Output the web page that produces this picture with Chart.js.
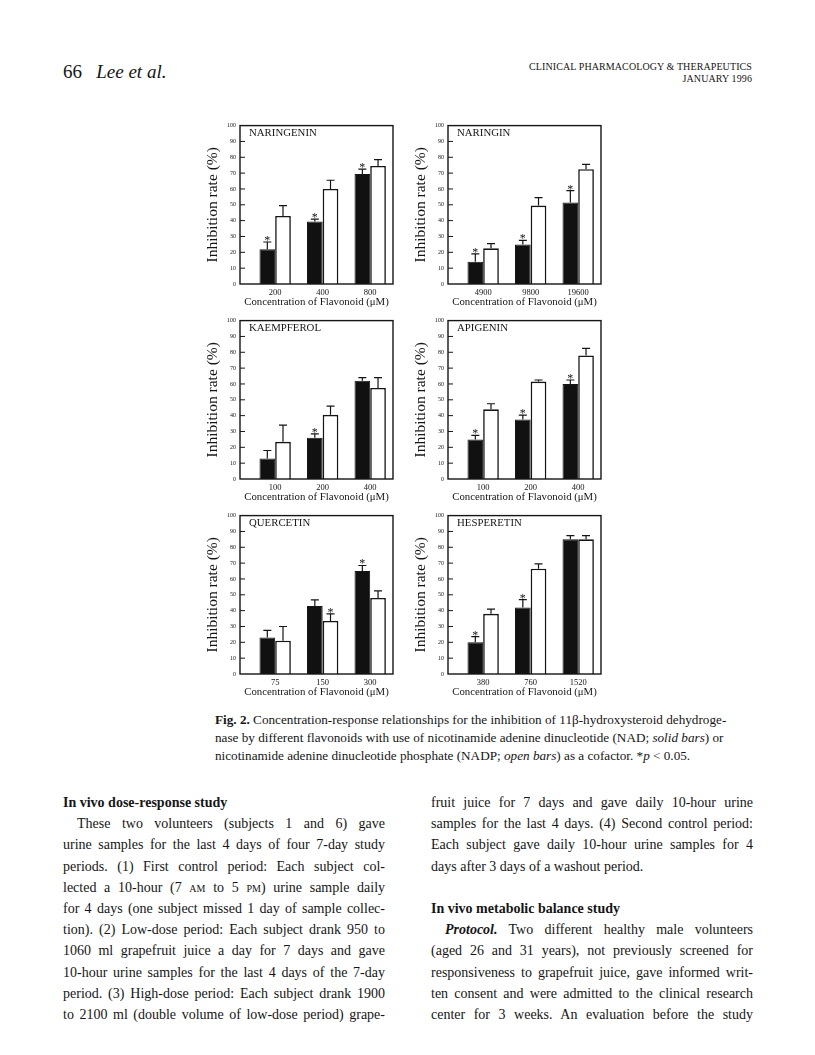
<!DOCTYPE html>
<html>
<head>
<meta charset="utf-8">
<script src="https://cdn.jsdelivr.net/npm/chart.js@4.4.0/dist/chart.umd.min.js"></script>
<style>
  body { margin: 0; background: #fff; width: 815px; height: 1055px; position: relative; overflow: hidden;
         font-family: "Liberation Serif", "DejaVu Serif", serif; color: #151515; }
  .abs { position: absolute; white-space: nowrap; }
  canvas { position: absolute; }
  .col { position: absolute; width: 322px; font-size: 14px; line-height: 21.2px; white-space: nowrap; }
  .j { text-align: justify; text-align-last: justify; }
  .sc { font-variant: small-caps; }
</style>
</head>
<body>

<div class="abs" style="left:63px;top:60px;font-size:19px;line-height:24px">66&nbsp;&nbsp;&nbsp;<i>Lee et al.</i></div>
<div class="abs" style="right:63px;top:61px;font-size:10px;line-height:12px;text-align:right;letter-spacing:0.1px">CLINICAL PHARMACOLOGY &amp; THERAPEUTICS<br>JANUARY 1996</div>

<div class="abs" style="left:215px;top:711px;font-size:13.2px;line-height:17.8px">
  <div><b>Fig. 2.</b> Concentration-response relationships for the inhibition of 11β-hydroxysteroid dehydroge-</div>
  <div>nase by different flavonoids with use of nicotinamide adenine dinucleotide (NAD; <i>solid bars</i>) or</div>
  <div>nicotinamide adenine dinucleotide phosphate (NADP; <i>open bars</i>) as a cofactor. *<i>p</i> &lt; 0.05.</div>
</div>

<div class="col" style="left:63px;top:792px">
  <div><b>In vivo dose-response study</b></div>
  <div class="j" style="padding-left:14px">These two volunteers (subjects 1 and 6) gave</div>
  <div class="j">urine samples for the last 4 days of four 7-day study</div>
  <div class="j">periods. (1) First control period: Each subject col-</div>
  <div class="j">lected a 10-hour (7 <span class="sc">am</span> to 5 <span class="sc">pm</span>) urine sample daily</div>
  <div class="j">for 4 days (one subject missed 1 day of sample collec-</div>
  <div class="j">tion). (2) Low-dose period: Each subject drank 950 to</div>
  <div class="j">1060 ml grapefruit juice a day for 7 days and gave</div>
  <div class="j">10-hour urine samples for the last 4 days of the 7-day</div>
  <div class="j">period. (3) High-dose period: Each subject drank 1900</div>
  <div class="j">to 2100 ml (double volume of low-dose period) grape-</div>
</div>

<div class="col" style="left:431px;top:792px">
  <div class="j">fruit juice for 7 days and gave daily 10-hour urine</div>
  <div class="j">samples for the last 4 days. (4) Second control period:</div>
  <div class="j">Each subject gave daily 10-hour urine samples for 4</div>
  <div>days after 3 days of a washout period.</div>
  <div>&nbsp;</div>
  <div><b>In vivo metabolic balance study</b></div>
  <div class="j" style="padding-left:14px"><b><i>Protocol.</i></b> Two different healthy male volunteers</div>
  <div class="j">(aged 26 and 31 years), not previously screened for</div>
  <div class="j">responsiveness to grapefruit juice, gave informed writ-</div>
  <div class="j">ten consent and were admitted to the clinical research</div>
  <div class="j">center for 3 weeks. An evaluation before the study</div>
</div>

<script>
// panels, read left to right, top to bottom
const panelNames = ['NARINGENIN', 'NARINGIN', 'KAEMPFEROL', 'APIGENIN', 'QUERCETIN', 'HESPERETIN'];
const concLabels = [
  ['200', '400', '800'],
  ['4900', '9800', '19600'],
  ['100', '200', '400'],
  ['100', '200', '400'],
  ['75', '150', '300'],
  ['380', '760', '1520']
];
// NAD = solid bars, NADP = open bars (inhibition rate %, mean and upper error)
const nadMean  = [[22, 39.5, 69.5], [14, 25, 51.5], [13, 26, 62], [25, 37.5, 60], [23, 43, 65], [20, 42, 85]];
const nadErr   = [[4.5, 1.5, 3], [5, 2.5, 7.5], [5, 2.5, 2], [2.5, 2.8, 2.5], [4.5, 3.8, 3.5], [3.6, 5, 2.4]];
const nadpMean = [[43, 60, 74.5], [22.5, 49.5, 72.5], [23.5, 40.5, 57.5], [44, 61.5, 78], [21, 33.5, 48], [38, 66.5, 85]];
const nadpErr  = [[6.5, 5.5, 4], [3, 5, 3], [10.5, 5.5, 6.5], [3.5, 1, 4.5], [9, 4.5, 4.5], [3, 3, 2.4]];
const nadStar  = [[1, 1, 1], [1, 1, 1], [0, 1, 0], [1, 1, 1], [0, 0, 1], [1, 1, 0]];
const nadpStar = [[0, 0, 0], [0, 0, 0], [0, 0, 0], [0, 0, 0], [0, 1, 0], [0, 0, 0]];
const xTickValues = [0, 1, 2];
const yTickValues = [0, 10, 20, 30, 40, 50, 60, 70, 80, 90, 100];

const serif = "'Liberation Serif', 'DejaVu Serif', serif";
const ink = '#151515';

// frame, inward ticks, error bars, stars and panel name
const panelDecor = {
  id: 'panelDecor',
  afterDatasetsDraw(chart, args, opts) {
    const ctx = chart.ctx;
    const a = chart.chartArea;
    const y = chart.scales.y;
    ctx.save();
    ctx.strokeStyle = ink;
    ctx.fillStyle = ink;
    ctx.lineWidth = 1.4;
    ctx.strokeRect(a.left, a.top, a.width, a.height);

    ctx.lineWidth = 1;
    yTickValues.slice(1, -1).forEach(v => {
      const py = y.getPixelForValue(v);
      ctx.beginPath();
      ctx.moveTo(a.left, py);
      ctx.lineTo(a.left + 5, py);
      ctx.stroke();
    });

    chart.data.datasets.forEach((ds, i) => {
      chart.getDatasetMeta(i).data.forEach((bar, j) => {
        const yTop = y.getPixelForValue(ds.data[j].y + ds.errs[j]);
        ctx.lineWidth = 1.2;
        ctx.beginPath();
        ctx.moveTo(bar.x, bar.y);
        ctx.lineTo(bar.x, yTop);
        ctx.moveTo(bar.x - 4, yTop);
        ctx.lineTo(bar.x + 4, yTop);
        ctx.stroke();
        if (ds.stars[j]) {
          ctx.font = "12px " + serif;
          ctx.textAlign = 'center';
          ctx.textBaseline = 'alphabetic';
          ctx.fillText('*', bar.x, yTop + 2);
        }
      });
    });

    ctx.font = "10.8px " + serif;
    ctx.textAlign = 'left';
    ctx.textBaseline = 'middle';
    ctx.fillText(opts.name, a.left + 9, a.top + 8);
    ctx.restore();
  }
};

function makePanel(k, left, top) {
  const canvas = document.createElement('canvas');
  canvas.width = 200;
  canvas.height = 200;
  canvas.style.left = left + 'px';
  canvas.style.top = top + 'px';
  document.body.appendChild(canvas);

  const pts = arr => arr.map((v, i) => ({ x: xTickValues[i], y: v }));

  new Chart(canvas, {
    type: 'bar',
    data: {
      datasets: [
        { label: 'NAD', data: pts(nadMean[k]), errs: nadErr[k], stars: nadStar[k],
          backgroundColor: '#111', borderColor: ink, borderWidth: 1 },
        { label: 'NADP', data: pts(nadpMean[k]), errs: nadpErr[k], stars: nadpStar[k],
          backgroundColor: '#fff', borderColor: ink, borderWidth: 1.6 }
      ]
    },
    options: {
      responsive: false,
      animation: false,
      layout: { padding: { top: 7, right: 7, left: 0, bottom: 0 } },
      datasets: { bar: { categoryPercentage: 0.66, barPercentage: 1 } },
      plugins: {
        legend: { display: false },
        tooltip: { enabled: false },
        panelDecor: { name: panelNames[k] }
      },
      scales: {
        x: {
          type: 'linear', min: -0.74, max: 2.48, offset: false,
          grid: { display: false, drawTicks: false, offset: false },
          border: { display: false },
          afterBuildTicks: s => { s.ticks = xTickValues.map(v => ({ value: v })); },
          afterFit: s => { s.height = 34; },
          ticks: { padding: 4, color: ink, font: { family: serif, size: 8.5 },
                   callback: v => concLabels[k][v] },
          title: { display: true, text: 'Concentration of Flavonoid (μM)', color: ink,
                   font: { family: serif, size: 10.8 }, padding: { top: 0, bottom: 9 } }
        },
        y: {
          min: 0, max: 100,
          grid: { display: false, drawTicks: false },
          border: { display: false },
          afterBuildTicks: s => { s.ticks = yTickValues.map(v => ({ value: v })); },
          afterFit: s => { s.width = 40; },
          ticks: { padding: 4, color: ink, autoSkip: false, font: { family: serif, size: 6 } },
          title: { display: true, text: 'Inhibition rate (%)', color: ink,
                   font: { family: serif, size: 15.5 }, padding: { top: 3.5, bottom: 0 } }
        }
      }
    },
    plugins: [panelDecor]
  });
}

const colLeft = [200, 408];
const rowTop = [118, 313, 508];
panelNames.forEach((n, k) => makePanel(k, colLeft[k % 2], rowTop[Math.floor(k / 2)]));
</script>
</body>
</html>
